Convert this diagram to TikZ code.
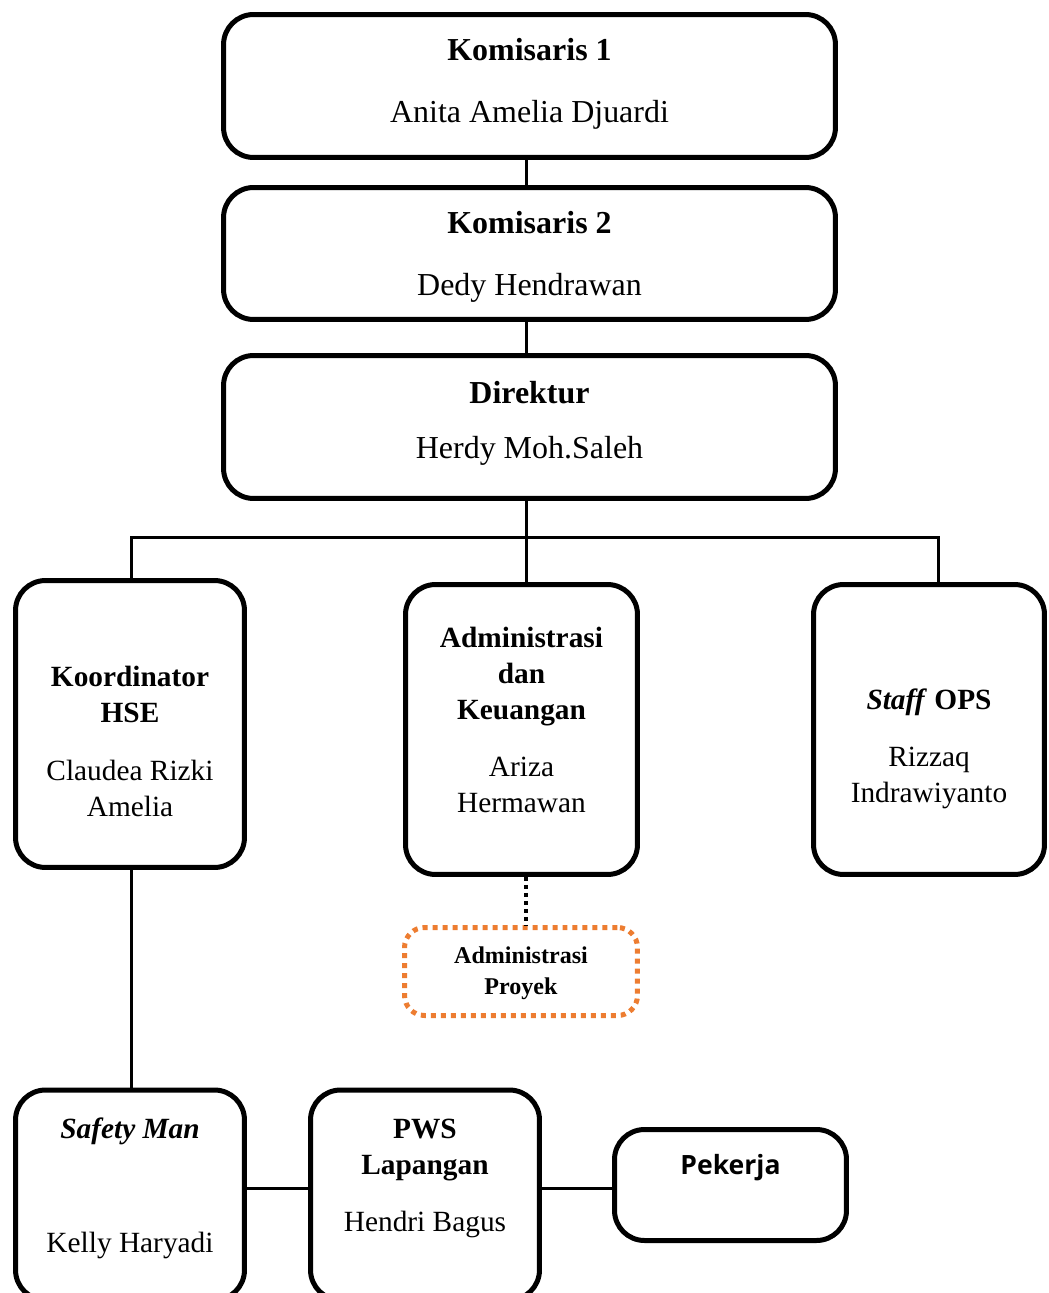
\documentclass[tikz,border=0pt]{standalone}
\usepackage{fontspec}
\setmainfont{Liberation Serif}
\newfontfamily\pekfont{Open Sans}
\usetikzlibrary{positioning,calc}
\definecolor{orgline}{HTML}{ED7D31}

\begin{document}
\begin{tikzpicture}[
    x=0.02cm, y=-0.02cm,
    box/.style={draw, line width=0.1cm, rounded corners=0.6cm, inner sep=0pt},
    dotbox/.style={draw=orgline, line width=0.1cm, dash pattern=on 0.1cm off 0.1cm, rounded corners=0.4cm, inner sep=0pt},
    txt/.style={align=center, font=\fontsize{16.7}{20.5}\selectfont, inner sep=0pt},
    bigtxt/.style={txt, font=\fontsize{18.2}{22}\selectfont},
    link/.style={line width=0.06cm},
]
\useasboundingbox (0,0) rectangle (1048,1293);
\clip (0,0) rectangle (1048,1293);

% top chain
\node[box, minimum width=12.24cm, minimum height=2.86cm] (kom1) at (529.5,86) {};
\node[box, minimum width=12.24cm, minimum height=2.64cm] (kom2) at (529.5,253.5) {};
\node[box, minimum width=12.24cm, minimum height=2.86cm] (dir) at (529.5,427) {};
\node[bigtxt] (kom1t) at ([yshift=0.04cm]kom1.center) {\textbf{Komisaris 1}\\[13pt] Anita Amelia Djuardi};
\node[bigtxt] (kom2t) at ([yshift=-0.07cm]kom2.center) {\textbf{Komisaris 2}\\[13pt] Dedy Hendrawan};
\node[bigtxt] (dirt) at ([yshift=0.07cm]dir.center) {\textbf{Direktur}\\[9pt] Herdy Moh.Saleh};

% second level
\node[box, minimum width=4.58cm, minimum height=5.74cm] (hse) at (130,724) {};
\node[box, minimum width=4.64cm, minimum height=5.8cm] (ak) at (521.5,729.5) {};
\node[box, minimum width=4.62cm, minimum height=5.8cm] (ops) at (929,729.5) {};
\node[txt] (hset) at ([yshift=-0.35cm]hse.center) {\textbf{Koordinator}\\\textbf{HSE}\\[12pt] Claudea Rizki\\Amelia};
\node[txt] (akt) at ([yshift=0.19cm]ak.center) {\textbf{Administrasi}\\\textbf{dan}\\\textbf{Keuangan}\\[12pt] Ariza\\Hermawan};
\node[txt] (opst) at ([yshift=-0.38cm]ops.center) {\textbf{\textit{Staff} OPS}\\[12pt] Rizzaq\\Indrawiyanto};

% project admin
\node[dotbox, minimum width=4.66cm, minimum height=1.76cm] (ap) at (521,971.5) {};
\node[txt, font=\fontsize{13.7}{17.5}\selectfont\bfseries] (apt) at ([yshift=-0.04cm]ap.center) {Administrasi\\Proyek};

% bottom row
\node[box, minimum width=4.58cm, minimum height=4.2cm] (sm) at (130,1195) {};
\node[box, minimum width=4.58cm, minimum height=4.2cm] (pws) at (425,1195) {};
\node[box, minimum width=4.64cm, minimum height=2.22cm] (pek) at (730.5,1185) {};
\node[txt] (smt) at ([yshift=1.28cm]sm.center) {\textbf{\textit{Safety Man}}};
\node[txt] (smn) at ([yshift=-1.0cm]sm.center) {Kelly Haryadi};
\node[txt] (pwst) at ([yshift=0.33cm]pws.center) {\textbf{PWS}\\\textbf{Lapangan}\\[12pt] Hendri Bagus};
\node[txt, font=\pekfont\fontsize{15.1}{18}\selectfont\bfseries] (pekt) at ([yshift=0.34cm]pek.center) {Pekerja};

% connectors
\coordinate (spine) at (526,0);
\coordinate (barl) at (131,537);
\coordinate (barr) at (938,537);
\coordinate (row) at (0,1188);
\draw[link] (kom1.south -| spine) -- (kom2.north -| spine);
\draw[link] (kom2.south -| spine) -- (dir.north -| spine);
\draw[link] (dir.south -| spine) -- (ak.north -| spine);
\draw[link] (hse.north -| barl) -- (barl) -- (barr) -- (ops.north -| barr);
\draw[link] (hse.south -| barl) -- (sm.north -| barl);
\draw[link] (sm.east |- row) -- (pws.west |- row);
\draw[link] (pws.east |- row) -- (pek.west |- row);
\draw[line width=0.08cm, dash pattern=on 0.08cm off 0.08cm] (ak.south -| spine) -- (ap.north -| spine);
\end{tikzpicture}
\end{document}
